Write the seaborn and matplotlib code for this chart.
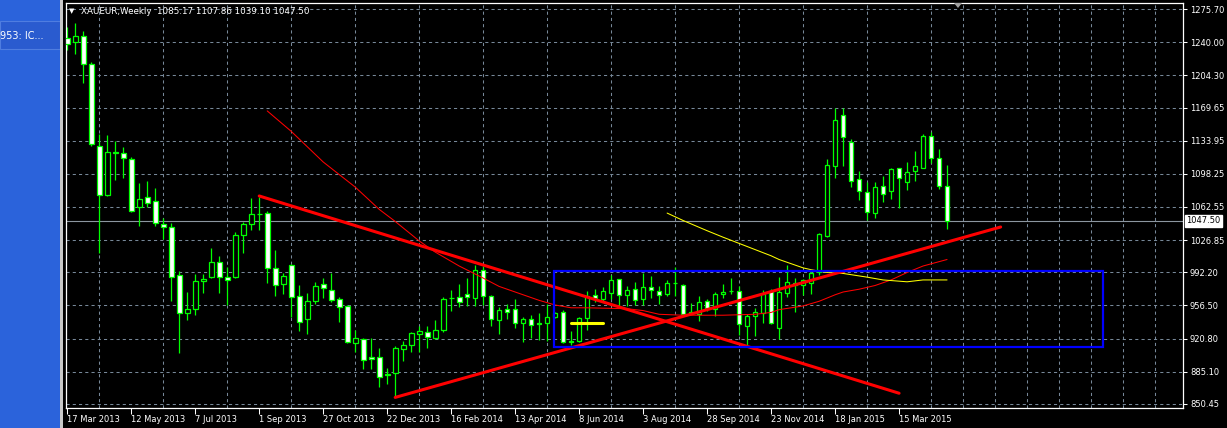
import numpy as np
import pandas as pd
import matplotlib
matplotlib.use("Agg")
import matplotlib.pyplot as plt
from matplotlib.patches import Rectangle, Polygon
from matplotlib.transforms import blended_transform_factory
import seaborn as sns

# weekly XAUEUR bars, bar 0 = week of 17 Mar 2013
opens = [1245.0, 1240.7, 1246.4, 1216.4, 1128.3, 1075.3, 1121.8, 1120.8, 1114.3, 1062.8,
         1073.5, 1069.2, 1044.5, 1041.3, 989.8, 948.9, 953.2, 982.9, 987.0, 1003.5,
         987.4, 987.0, 1032.1, 1044.0, 1054.9, 1056.1, 997.0, 979.5, 1000.3, 967.0,
         941.9, 961.6, 979.8, 973.4, 963.8, 955.7, 916.0, 920.2, 900.9, 900.9,
         882.5, 883.7, 909.1, 913.4, 926.3, 927.8, 921.3, 930.3, 964.5, 965.4,
         968.6, 965.0, 994.3, 966.4, 940.6, 952.5, 952.5, 937.1, 941.7, 937.3,
         937.4, 943.9, 949.2, 917.9, 918.1, 942.8, 967.5, 963.9, 970.4, 984.7,
         968.2, 973.9, 963.9, 976.1, 971.8, 969.3, 980.6, 978.9, 948.2, 947.8,
         961.1, 952.5, 968.6, 972.4, 971.8, 934.9, 944.9, 948.4, 971.7, 932.3,
         969.9, 978.8, 978.5, 980.6, 992.8, 1031.8, 1107.0, 1162.1, 1132.1, 1092.3,
         1078.4, 1056.5, 1085.5, 1079.4, 1104.2, 1089.1, 1100.9, 1104.9, 1139.2, 1114.9,
         1085.17]
highs = [1256.0, 1260.8, 1252.2, 1218.5, 1141.6, 1140.5, 1134.0, 1127.6, 1116.1, 1088.9,
         1090.0, 1082.5, 1051.0, 1044.9, 993.3, 971.5, 990.5, 990.9, 1018.5, 1010.3,
         998.1, 1035.3, 1046.1, 1072.6, 1073.3, 1058.3, 1016.7, 991.7, 1001.0, 978.8,
         970.2, 982.0, 986.3, 991.7, 965.2, 956.5, 929.9, 921.3, 921.3, 910.9,
         889.1, 912.7, 918.1, 927.8, 934.6, 934.9, 941.0, 965.4, 973.2, 979.7,
         986.1, 1000.1, 998.6, 967.9, 955.0, 958.2, 963.9, 944.2, 946.7, 948.2,
         958.2, 949.2, 951.7, 928.8, 943.9, 971.8, 974.3, 976.4, 989.7, 985.4,
         977.2, 981.5, 991.1, 988.3, 977.5, 983.6, 998.3, 979.7, 959.3, 966.4,
         963.2, 971.1, 979.3, 985.8, 977.2, 947.5, 953.5, 972.7, 973.8, 987.1,
         1000.6, 986.4, 985.3, 993.5, 1034.7, 1114.2, 1168.9, 1168.9, 1135.6, 1101.3,
         1089.1, 1089.1, 1095.5, 1104.2, 1104.9, 1110.9, 1122.8, 1141.4, 1142.8, 1124.9,
         1107.86]
lows = [1232.0, 1227.1, 1196.3, 1128.0, 1013.0, 1074.2, 1091.4, 1093.6, 1057.4, 1042.0,
        1062.4, 1042.0, 1028.4, 960.8, 905.6, 941.0, 946.3, 970.1, 985.9, 969.8,
        956.9, 985.9, 1012.8, 1038.2, 1038.2, 980.6, 966.6, 968.8, 944.0, 929.0,
        925.8, 957.7, 964.5, 960.2, 938.7, 916.0, 905.9, 888.4, 888.4, 868.3,
        871.6, 858.7, 896.3, 906.3, 905.9, 910.9, 919.9, 928.1, 951.0, 955.3,
        956.4, 956.4, 957.5, 934.9, 926.0, 941.7, 932.0, 917.7, 921.7, 918.8,
        918.1, 943.2, 916.0, 914.2, 917.4, 929.6, 960.0, 960.0, 963.9, 954.6,
        955.7, 956.8, 956.8, 964.6, 957.8, 967.1, 967.1, 947.1, 947.5, 940.3,
        950.9, 945.7, 964.3, 968.6, 924.9, 914.2, 923.1, 937.7, 936.9, 920.8,
        965.6, 949.1, 967.4, 968.5, 988.9, 1030.0, 1093.4, 1107.0, 1084.1, 1070.5,
        1049.0, 1051.2, 1068.3, 1071.6, 1061.2, 1080.9, 1090.9, 1104.2, 1109.9, 1082.0,
        1039.10]
closes = [1238.0, 1247.2, 1216.4, 1130.5, 1075.7, 1121.9, 1121.2, 1115.4, 1058.1, 1071.4,
          1067.1, 1045.6, 1041.3, 987.6, 948.9, 953.2, 983.3, 985.5, 1003.5, 987.4,
          984.2, 1032.5, 1044.6, 1055.4, 1054.5, 996.7, 978.8, 988.4, 965.9, 939.1,
          961.6, 977.7, 975.2, 962.7, 955.2, 917.0, 921.3, 897.3, 898.4, 879.4,
          882.1, 910.6, 913.8, 926.7, 928.8, 922.4, 929.9, 963.6, 964.1, 960.0,
          965.4, 994.3, 967.1, 941.4, 951.7, 949.2, 937.1, 941.7, 936.0, 936.9,
          943.9, 948.2, 917.0, 917.7, 942.8, 966.4, 964.3, 971.8, 984.0, 968.2,
          972.9, 962.8, 976.1, 973.6, 967.5, 980.7, 980.4, 947.8, 950.0, 960.0,
          953.9, 968.6, 971.1, 972.2, 936.4, 944.9, 949.2, 969.2, 937.7, 971.0,
          982.1, 981.0, 983.8, 991.7, 1033.6, 1107.7, 1155.7, 1137.4, 1090.2, 1079.4,
          1056.9, 1083.7, 1076.2, 1103.1, 1093.4, 1099.8, 1106.3, 1138.5, 1114.9, 1084.8,
          1047.50]

label_bars = [0, 8, 16, 24, 32, 40, 48, 56, 64, 72, 80, 88, 96, 104]
date_labels = ["17 Mar 2013", "12 May 2013", "7 Jul 2013", "1 Sep 2013", "27 Oct 2013",
               "22 Dec 2013", "16 Feb 2014", "13 Apr 2014", "8 Jun 2014", "3 Aug 2014",
               "28 Sep 2014", "23 Nov 2014", "18 Jan 2015", "15 Mar 2015"]
price_ticks = [1275.70, 1240.00, 1204.30, 1169.65, 1133.95, 1098.25, 1062.55,
               1026.85, 992.20, 956.50, 920.80, 885.10, 850.45]

# moving averages as drawn on the chart
red_ma_bars = [25, 28, 32, 36, 39, 41, 44, 46, 49, 52, 54, 57, 59, 61, 63, 65, 70,
               72, 74, 77, 82, 86, 88, 89, 92, 94, 96, 97, 99, 101, 103, 105, 107, 110]
red_ma_vals = [1166, 1144, 1111, 1084, 1060, 1047, 1026, 1014, 999, 986, 977, 968, 962,
               957, 954, 954, 953, 951, 947, 946, 946, 947, 949, 952, 956, 961, 968,
               971, 974, 978, 984, 992, 999, 1006]
yellow_ma_bars = [75, 77, 80, 82, 85, 88, 89, 92, 93, 95, 97, 100, 102, 105, 107, 110]
yellow_ma_vals = [1056, 1048, 1037, 1030, 1020, 1010, 1006, 997, 995, 992, 991, 987,
                  984, 982, 984, 984]

# hand drawn objects
trend_down_bars = [24, 104]
trend_down_prices = [1074.4, 862.0]
trend_up_bars = [41, 116.7]
trend_up_prices = [857.5, 1041.0]
box_bars = [60.9, 129.5]
box_prices = [912.1, 994.0]
level_bars = [63, 67]
level_prices = [937.4, 937.4]
last_price = 1047.50

df = pd.DataFrame({"bar": np.arange(len(opens)), "open": opens, "high": highs,
                   "low": lows, "close": closes})

sns.set_style("dark", {"axes.facecolor": "black", "figure.facecolor": "black"})
plt.rcParams["font.family"] = ["DejaVu Sans"]

GREEN = "#00ff00"
GRID = "#778899"
W, H = 1227, 428

fig = plt.figure(figsize=(W / 100, H / 100), dpi=100)
fig.patch.set_facecolor("black")

# terminal side panel
fig.add_artist(Rectangle((0, 0), 60 / W, 1, transform=fig.transFigure,
                         facecolor="#2b63db", edgecolor="none", zorder=0))
fig.add_artist(Rectangle((0, 1 - 49 / H), 60 / W, 28 / H, transform=fig.transFigure,
                         facecolor="#2a5bcf", edgecolor="#4f7de0", lw=0.8, zorder=1))
fig.add_artist(Rectangle((60 / W, 0), 3 / W, 1, transform=fig.transFigure,
                         facecolor="#c8c8c8", edgecolor="none", zorder=1))
fig.text(0, 1 - 36 / H, "953: IC...", color="white", fontsize=7, va="center", ha="left")

ax = fig.add_axes([66 / W, (H - 408) / H, (1183 - 66) / W, (408 - 3) / H])
ax.set_facecolor("black")

# candles
body_lo = np.minimum(df["open"], df["close"])
body_h = np.maximum(np.abs(df["close"] - df["open"]), 0.3)
faces = np.where(df["close"] < df["open"], "white", "black")
ax.vlines(df["bar"], df["low"], df["high"], color=GREEN, lw=0.9, zorder=2)
ax.bar(df["bar"], body_h, bottom=body_lo, width=0.58, color=faces,
       edgecolor=GREEN, linewidth=0.9, zorder=3)

# indicators and objects
sns.lineplot(x=red_ma_bars, y=red_ma_vals, ax=ax, color="#ff0000", lw=0.75, zorder=4)
sns.lineplot(x=yellow_ma_bars, y=yellow_ma_vals, ax=ax, color="#ffff00", lw=0.75, zorder=4)
sns.lineplot(x=trend_down_bars, y=trend_down_prices, ax=ax, color="#ff0000", lw=2.2, zorder=5)
sns.lineplot(x=trend_up_bars, y=trend_up_prices, ax=ax, color="#ff0000", lw=2.2, zorder=5)
sns.lineplot(x=level_bars, y=level_prices, ax=ax, color="#ffff00", lw=2.2, zorder=5)
ax.add_patch(Rectangle((box_bars[0], box_prices[0]), box_bars[1] - box_bars[0],
                       box_prices[1] - box_prices[0], fill=False,
                       edgecolor="#0000ff", lw=1.6, zorder=5))
ax.axhline(last_price, color="#8c96a0", lw=0.8, zorder=1)

ax.set_xlim(-0.16, 139.5)
ax.set_ylim(846.1, 1282.2)

# axes, ticks and grid
ax.set_xticks(label_bars)
ax.set_xticklabels(date_labels, ha="left")
ax.set_xticks(np.arange(0, 140, 4), minor=True)
ax.set_yticks(price_ticks)
ax.set_yticklabels([f"{v:.2f}" for v in price_ticks])
ax.yaxis.tick_right()
ax.tick_params(axis="x", which="major", bottom=True, length=4, width=0.75,
               colors="white", labelsize=6, pad=1)
ax.tick_params(axis="x", which="minor", length=0)
ax.tick_params(axis="y", which="major", right=True, left=False, labelright=True,
               labelleft=False, length=3, width=0.75, colors="white", labelsize=6, pad=2)
ax.grid(False)
ax.xaxis.grid(True, which="minor", color=GRID, lw=0.75, linestyle=(0, (3, 3)))
ax.yaxis.grid(True, which="major", color=GRID, lw=0.75, linestyle=(0, (3, 3)))
ax.set_axisbelow(True)
ax.set_xlabel("")
ax.set_ylabel("")
for s in ax.spines.values():
    s.set_visible(True)
    s.set_color("white")
    s.set_linewidth(0.9)

# header and current price tag
fig.text(69 / W, 1 - 11 / H, "\u25bc", color="white", fontsize=5, va="center", ha="left")
fig.text(81 / W, 1 - 11 / H, "XAUEUR,Weekly  1085.17 1107.86 1039.10 1047.50",
         color="white", fontsize=6.3, va="center", ha="left")
trans = blended_transform_factory(ax.transAxes, ax.transData)
ax.text(1.003, last_price, "1047.50", transform=trans, color="black", fontsize=6,
        va="center", ha="left", clip_on=False,
        bbox=dict(facecolor="white", edgecolor="white", pad=1.2))
fig.add_artist(Polygon([(954 / W, 1 - 3 / H), (962 / W, 1 - 3 / H), (958 / W, 1 - 8 / H)],
                       closed=True, transform=fig.transFigure, facecolor="#a0a0a0",
                       edgecolor="none", zorder=6))

fig.savefig("out.png", dpi=100, facecolor=fig.get_facecolor())
